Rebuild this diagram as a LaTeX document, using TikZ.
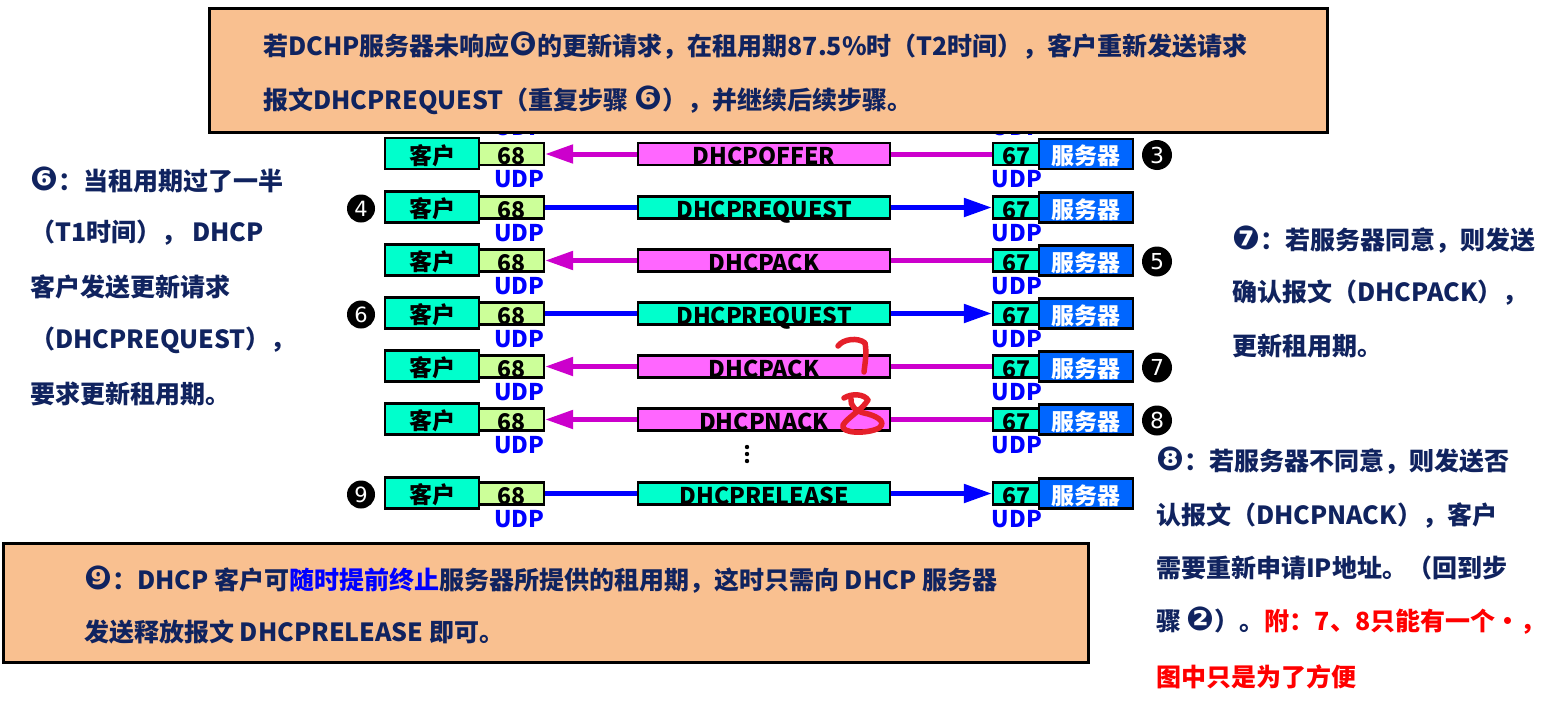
\documentclass[tikz,border=0pt]{standalone}
\usepackage{fontspec}
\setmainfont{Noto Sans CJK SC}
\newfontfamily\djv{DejaVu Sans}
\newcommand\cnum[1]{{\djv\fontsize{33}{25}\selectfont #1}}
\usetikzlibrary{arrows.meta}
\definecolor{navy}{HTML}{10235F}
\definecolor{peach}{HTML}{F9C090}
\definecolor{cyanbox}{HTML}{00FFCC}
\definecolor{lgreen}{HTML}{CCFF99}
\definecolor{srvblue}{HTML}{0066FF}
\definecolor{pinkbox}{HTML}{FF66FF}
\definecolor{magarrow}{HTML}{CC00CC}
\definecolor{udpblue}{HTML}{0000FF}
\definecolor{scribble}{HTML}{E5202A}
\tikzset{
  box/.style={draw=black, line width=2.2pt, inner sep=0pt, text height=21pt, text depth=0pt,
    font=\fontsize{23}{24}\selectfont\bfseries},
  client/.style={box, fill=cyanbox, minimum width=94pt, minimum height=31pt},
  porta/.style={box, fill=lgreen, minimum width=65pt, minimum height=22pt},
  portb/.style={box, fill=cyanbox, minimum width=46pt, minimum height=22pt},
  server/.style={box, fill=srvblue, text=white, minimum width=94pt, minimum height=30pt},
  msgpink/.style={box, fill=pinkbox, minimum width=252pt, minimum height=22pt},
  msgcyan/.style={box, fill=cyanbox, minimum width=252pt, minimum height=22pt},
  udp/.style={text=udpblue, inner sep=0pt, font=\fontsize{23}{24}\selectfont\bfseries},
  numR/.style={circle, fill=black, text=white, minimum size=30pt, inner sep=0pt, font=\djv\fontsize{22}{22}\selectfont},
  numL/.style={circle, fill=black, text=white, minimum size=28pt, inner sep=0pt, font=\djv\fontsize{21}{21}\selectfont},
  leftarr/.style={magarrow, line width=5pt, -{Triangle[length=28pt,width=18pt]}},
  pinkline/.style={magarrow, line width=5pt},
  rightarr/.style={udpblue, line width=5pt, -{Triangle[length=28pt,width=18pt]}},
  blueline/.style={udpblue, line width=5pt},
  note/.style={anchor=west, inner sep=0pt, text=navy, font=\fontsize{25}{25}\selectfont\bfseries},
  panel/.style={draw=black, line width=3pt, fill=peach, anchor=north west, inner sep=0pt},
  scrib/.style={scribble, line width=5.5pt, line cap=round, line join=round}
}
% server -> client row
\newcommand\rowL[4]{%
  \node[client] (c#1) at (432,#2) {客户};
  \node[porta] (p#1) at (511.5,#2+0.5) {68};
  \node[msgpink] (m#1) at (764,#2+0.5) {#3};
  \node[portb] (q#1) at (1016,#2+0.5) {67};
  \node[server] (s#1) at (1086,#2+0.5) {服务器};
  \node[numR] (n#1) at (1157,#2+1.5) {#4};
  \node[udp] (ua#1) at (519.5,#2+26) {UDP};
  \node[udp] (ub#1) at (1017,#2+26) {UDP};
  \draw[leftarr] (m#1.west) -- (p#1.east);
  \draw[pinkline] (q#1.west) -- (m#1.east);
}
% client -> server row
\newcommand\rowR[4]{%
  \node[client] (c#1) at (432,#2) {客户};
  \node[porta] (p#1) at (511.5,#2+0.5) {68};
  \node[msgcyan] (m#1) at (764,#2+0.5) {#3};
  \node[portb] (q#1) at (1016,#2+0.5) {67};
  \node[server] (s#1) at (1086,#2+0.5) {服务器};
  \node[numL] (n#1) at (361,#2+1.5) {#4};
  \node[udp] (ua#1) at (519.5,#2+26) {UDP};
  \node[udp] (ub#1) at (1017,#2+26) {UDP};
  \draw[blueline] (p#1.east) -- (m#1.west);
  \draw[rightarr] (m#1.east) -- (q#1.west);
}
\begin{document}
\begin{tikzpicture}[x=1pt,y=-1pt]
\useasboundingbox (0,0) rectangle (1559,707);
\fill[white] (0,0) rectangle (1559,707);

% UDP labels above first row (mostly hidden by top panel)
\node[udp] (ua0) at (519.5,127.5) {UDP};
\node[udp] (ub0) at (1017,127.5) {UDP};

\rowL{1}{153.5}{DHCPOFFER}{3}
\rowR{2}{207}{DHCPREQUEST}{4}
\rowL{3}{260}{DHCPACK}{5}
\rowR{4}{313}{DHCPREQUEST}{6}
\rowL{5}{366}{DHCPACK}{7}
\rowL{6}{419}{DHCPNACK}{8}
\rowR{7}{493}{DHCPRELEASE}{9}

% vertical dots
\fill (747,447) circle (2.2) (747,454) circle (2.2) (747,461) circle (2.2);

% handwritten 7 and 8
\draw[scrib] (838,346) .. controls (843,339) and (858,337) .. (865,343)
  .. controls (867,353) and (865,363) .. (864,372);
\draw[scrib] (844,398) .. controls (852,393) and (864,394) .. (868,400)
  .. controls (862,410) and (848,417) .. (843,425)
  .. controls (840,434) and (868,434) .. (879,428)
  .. controls (888,421) and (874,415) .. (864,413)
  .. controls (855,411) and (850,405) .. (851,399);

% top panel
\node[panel, minimum width=1118pt, minimum height=124pt] (top) at (208,7) {};
\node[note] (top1) at (263,46) {若DCHP服务器未响应\cnum{❻}的更新请求，在租用期87.5\%时（T2时间），客户重新发送请求};
\node[note] (top2) at (263,100) {报文DHCPREQUEST（重复步骤 \cnum{❻}），并继续后续步骤。};

% bottom panel
\node[panel, minimum width=1085pt, minimum height=119pt] (bot) at (2,542) {};
\node[note] (bot1) at (84,580) {\cnum{❾}：DHCP 客户可\textcolor{udpblue}{随时提前终止}服务器所提供的租用期，这时只需向 DHCP 服务器};
\node[note] (bot2) at (84,632) {发送释放报文 DHCPRELEASE 即可。};

% left notes
\node[note] (l1) at (30,180) {\cnum{❻}：当租用期过了一半};
\node[note] (l2) at (30,233) {（T1时间）， DHCP};
\node[note] (l3) at (30,287) {客户发送更新请求};
\node[note] (l4) at (30,340) {（DHCPREQUEST），};
\node[note] (l5) at (30,394) {要求更新租用期。};

% right notes (7)
\node[note] (r1) at (1232,240) {\cnum{❼}：若服务器同意，则发送};
\node[note] (r2) at (1232,293) {确认报文（DHCPACK），};
\node[note] (r3) at (1232,346) {更新租用期。};

% right notes (8)
\node[note] (b1) at (1156,461) {\cnum{❽}：若服务器不同意，则发送否};
\node[note] (b2) at (1156,516) {认报文（DHCPNACK），客户};
\node[note] (b3) at (1156,568) {需要重新申请IP地址。（回到步};
\node[note] (b4) at (1156,621) {骤 \cnum{❷}）。\textcolor{red}{附：7、8只能有一个•，}};
\node[note, text=red] (b5) at (1156,677) {图中只是为了方便};
\end{tikzpicture}
\end{document}
